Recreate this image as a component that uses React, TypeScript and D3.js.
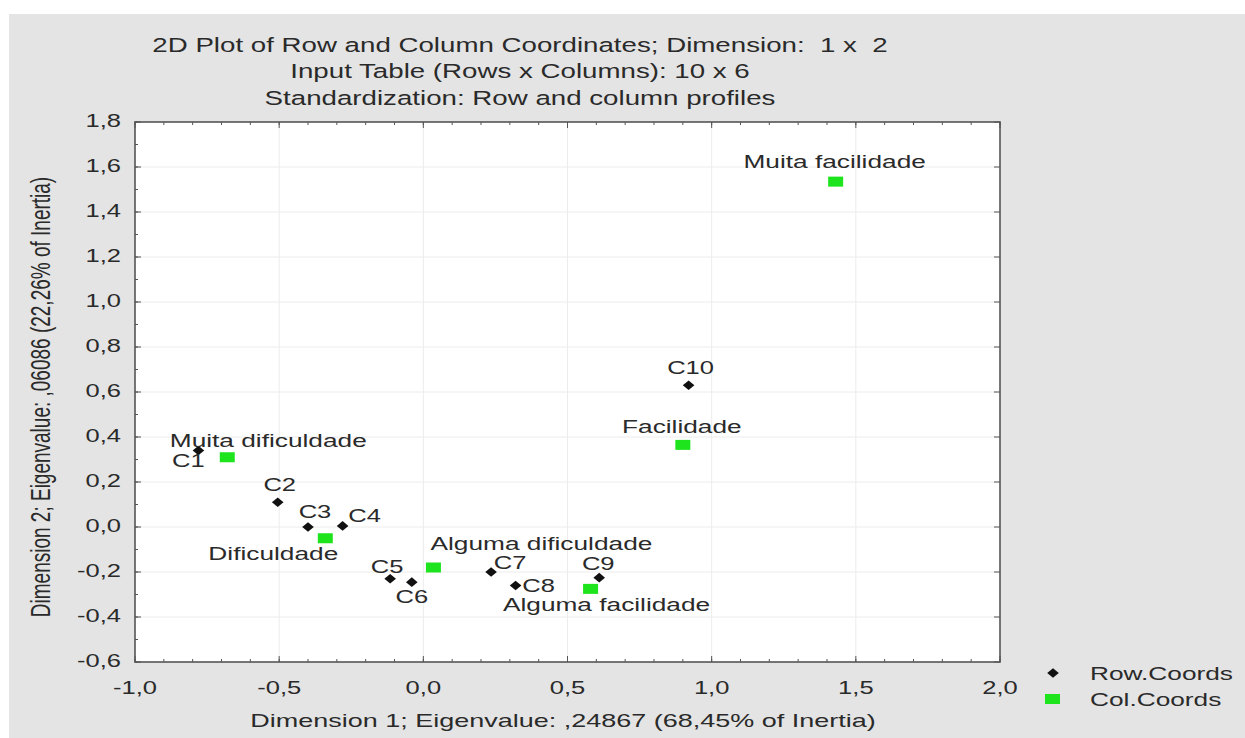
import React from "react";
import * as d3 from "d3";

// Correspondence analysis: row and column coordinates on dimensions 1 and 2
const rowNames = ["C1", "C2", "C3", "C4", "C5", "C6", "C7", "C8", "C9", "C10"];
const rowDim1 = [-0.78, -0.505, -0.4, -0.28, -0.115, -0.04, 0.235, 0.32, 0.61, 0.92];
const rowDim2 = [0.34, 0.11, 0.0, 0.005, -0.23, -0.245, -0.2, -0.26, -0.225, 0.63];

const colNames = [
  "Muita dificuldade",
  "Dificuldade",
  "Alguma dificuldade",
  "Alguma facilidade",
  "Facilidade",
  "Muita facilidade",
];
const colDim1 = [-0.68, -0.34, 0.035, 0.58, 0.9, 1.43];
const colDim2 = [0.31, -0.05, -0.18, -0.275, 0.365, 1.535];

const xTicks = [-1.0, -0.5, 0.0, 0.5, 1.0, 1.5, 2.0];
const yTicks = [-0.6, -0.4, -0.2, 0.0, 0.2, 0.4, 0.6, 0.8, 1.0, 1.2, 1.4, 1.6, 1.8];

const titleLines = [
  "2D Plot of Row and Column Coordinates; Dimension:  1 x  2",
  "Input Table (Rows x Columns): 10 x 6",
  "Standardization: Row and column profiles",
];
const xTitle = "Dimension 1; Eigenvalue: ,24867 (68,45% of Inertia)";
const yTitle = "Dimension 2; Eigenvalue: ,06086 (22,26% of Inertia)";
const legendNames = ["Row.Coords", "Col.Coords"];

// label placement (pixel offsets from the marker to the label centre)
const rowLabelOffsets: [number, number][] = [
  [-10, 10], [2, -17], [7, -15], [22, -10], [-3, -12],
  [0, 15], [19, -9], [23, 0], [-1, -14], [2, -17],
];
const colLabelOffsets: [number, number][] = [
  [41, -17], [-52, 15], [108, -24], [16, 16], [-1, -18], [-1, -20],
];

const W = 1245;
const H = 738;
const SX = 1.42; // horizontal glyph stretch
const FONT = "'Liberation Sans', Arial, sans-serif";
const GREEN = "#1ee41e";
const TEXT = "#2a2a2a";

const fmt = (v: number) => d3.format(".1f")(v).replace(".", ",").replace("−", "-");

function SText(props: {
  x: number;
  y: number;
  size: number;
  anchor?: "start" | "middle" | "end";
  rotate?: number;
  fill?: string;
  children: React.ReactNode;
}) {
  const { x, y, size, anchor = "middle", rotate, fill = TEXT, children } = props;
  const tr = `translate(${x},${y}) scale(${SX},1)` + (rotate ? ` rotate(${rotate})` : "");
  return (
    <text
      transform={tr}
      fontSize={size}
      fontFamily={FONT}
      textAnchor={anchor}
      dominantBaseline="central"
      fill={fill}
      style={{ whiteSpace: "pre" }}
    >
      {children}
    </text>
  );
}

const diamond = "M0,-4.8L5.8,0L0,4.8L-5.8,0Z";

export default function App() {
  const x = d3.scaleLinear().domain([-1, 2]).range([135, 1000]);
  const y = d3.scaleLinear().domain([-0.6, 1.8]).range([662, 122]);
  const [x0, x1] = x.range();
  const [y0, y1] = y.range();

  const xMinor = d3.range(-1, 2.0001, 0.1).map((v) => +v.toFixed(2));
  const yMinor = d3.range(-0.6, 1.8001, 0.1).map((v) => +v.toFixed(2));

  return (
    <svg
      width={W}
      height={H}
      style={{ position: "absolute", left: 0, top: 0, display: "block" }}
    >
      <rect x={0} y={0} width={W} height={H} fill="#ffffff" />
      <rect x={9} y={14} width={W - 9} height={H - 14} fill="#e4e4e4" />

      {titleLines.map((t, i) => (
        <SText key={t} x={520} y={45 + i * 26.5} size={19.5}>
          {t}
        </SText>
      ))}

      {/* plot area */}
      <rect x={x0} y={y1} width={x1 - x0} height={y0 - y1} fill="#ffffff" />

      {/* faint grid */}
      <g stroke="#ececec" strokeWidth={1}>
        {xTicks.slice(1, -1).map((t) => (
          <line key={"gx" + t} x1={x(t)} x2={x(t)} y1={y1} y2={y0} />
        ))}
        {yTicks.slice(1, -1).map((t) => (
          <line key={"gy" + t} x1={x0} x2={x1} y1={y(t)} y2={y(t)} />
        ))}
      </g>

      {/* ticks */}
      <g stroke="#555" strokeWidth={1}>
        {xMinor.map((t) => (
          <g key={"xm" + t}>
            <line x1={x(t)} x2={x(t)} y1={y0} y2={y0 - 3} />
            <line x1={x(t)} x2={x(t)} y1={y1} y2={y1 + 3} />
          </g>
        ))}
        {xTicks.map((t) => (
          <g key={"xt" + t}>
            <line x1={x(t)} x2={x(t)} y1={y0} y2={y0 - 6} />
            <line x1={x(t)} x2={x(t)} y1={y1} y2={y1 + 6} />
          </g>
        ))}
        {yMinor.map((t) => (
          <line key={"ym" + t} x1={x0} x2={x0 + 3} y1={y(t)} y2={y(t)} />
        ))}
        {yTicks.map((t) => (
          <g key={"yt" + t}>
            <line x1={x0} x2={x0 + 6} y1={y(t)} y2={y(t)} />
            <line x1={x1} x2={x1 - 6} y1={y(t)} y2={y(t)} />
          </g>
        ))}
      </g>

      <rect
        x={x0}
        y={y1}
        width={x1 - x0}
        height={y0 - y1}
        fill="none"
        stroke="#555"
        strokeWidth={1.6}
      />

      {/* tick labels */}
      {xTicks.map((t) => (
        <SText key={"xl" + t} x={x(t)} y={688} size={18}>
          {fmt(t)}
        </SText>
      ))}
      {yTicks.map((t) => (
        <SText key={"yl" + t} x={121} y={y(t) - 1} size={18} anchor="end">
          {fmt(t)}
        </SText>
      ))}

      {/* axis titles */}
      <SText x={563} y={720} size={19}>
        {xTitle}
      </SText>
      <SText x={41} y={397} size={19} rotate={-90}>
        {yTitle}
      </SText>

      {/* column coordinates */}
      {colNames.map((n, i) => (
        <rect
          key={"cs" + n}
          x={x(colDim1[i]) - 7.5}
          y={y(colDim2[i]) - 5}
          width={15}
          height={10}
          fill={GREEN}
        />
      ))}

      {/* row coordinates */}
      {rowNames.map((n, i) => (
        <path
          key={"rp" + n}
          d={diamond}
          transform={`translate(${x(rowDim1[i])},${y(rowDim2[i])})`}
          fill="#111"
        />
      ))}

      {colNames.map((n, i) => (
        <SText
          key={"cl" + n}
          x={x(colDim1[i]) + colLabelOffsets[i][0]}
          y={y(colDim2[i]) + colLabelOffsets[i][1]}
          size={18.5}
        >
          {n}
        </SText>
      ))}
      {rowNames.map((n, i) => (
        <SText
          key={"rl" + n}
          x={x(rowDim1[i]) + rowLabelOffsets[i][0]}
          y={y(rowDim2[i]) + rowLabelOffsets[i][1]}
          size={18}
        >
          {n}
        </SText>
      ))}

      {/* legend */}
      <path d={diamond} transform="translate(1053,673)" fill="#111" />
      <SText x={1090} y={673} size={18.5} anchor="start">
        {legendNames[0]}
      </SText>
      <rect x={1045} y={694} width={15} height={10} fill={GREEN} />
      <SText x={1090} y={699} size={18.5} anchor="start">
        {legendNames[1]}
      </SText>
    </svg>
  );
}
